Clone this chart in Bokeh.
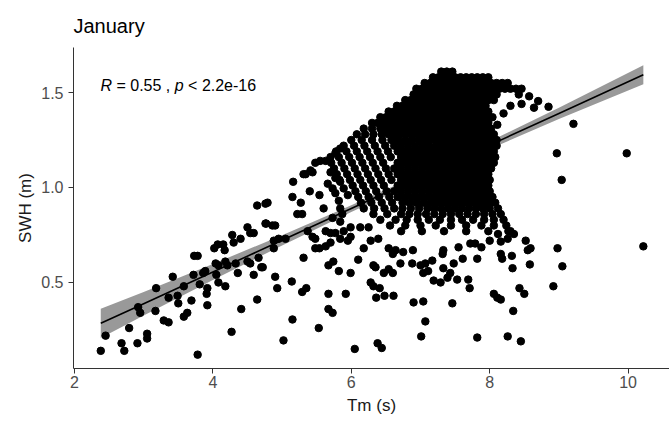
from bokeh.plotting import figure
from bokeh.models import Range1d, FixedTicker, Label, PrintfTickFormatter
from bokeh.embed import file_html
from bokeh.resources import INLINE

# ---- sparse points (Tm, SWH) ----
low_tm = [2.38, 2.45, 2.68, 2.72, 2.79, 2.91, 3.05, 3.05, 2.92, 2.95, 3.17, 3.18, 3.29, 3.36, 3.36, 3.42,
          3.49, 3.50, 3.58, 3.58, 3.63, 3.69, 3.72, 3.73, 3.78, 3.78, 3.81, 3.86, 3.89, 3.91, 3.92, 3.92,
          4.02, 4.07, 4.04, 4.08, 4.05, 4.08, 4.15, 4.17, 4.18, 4.21, 4.18, 4.27, 4.28, 4.30, 4.33, 4.36,
          4.40, 4.41, 4.50, 4.54, 4.59, 4.50, 4.54, 4.59, 4.64, 4.76, 4.64, 4.66, 4.70, 4.77]
low_swh = [0.14, 0.22, 0.18, 0.14, 0.26, 0.18, 0.23, 0.205, 0.37, 0.34, 0.35, 0.47, 0.30, 0.29, 0.42, 0.53,
           0.43, 0.39, 0.48, 0.32, 0.34, 0.405, 0.54, 0.64, 0.64, 0.12, 0.49, 0.55, 0.56, 0.44, 0.47, 0.38,
           0.68, 0.70, 0.60, 0.59, 0.54, 0.50, 0.70, 0.67, 0.61, 0.59, 0.48, 0.24, 0.75, 0.71, 0.60, 0.55,
           0.73, 0.36, 0.79, 0.76, 0.76, 0.61, 0.60, 0.54, 0.905, 0.915, 0.41, 0.63, 0.58, 0.81]

mid_tm = [5.16, 5.15, 5.27, 5.40, 5.34, 5.44, 5.54, 5.60, 4.79, 5.22, 5.29, 4.76, 4.86, 4.90, 4.88, 4.95,
          5.05, 4.88, 4.72, 5.31, 4.90, 4.93, 5.14, 5.29, 5.35, 5.15, 5.02, 5.53, 5.67, 5.67, 5.73, 5.92,
          6.05, 6.38, 6.44, 5.99, 5.82, 5.67, 5.74, 6.10, 6.28, 6.32, 6.41, 6.36, 6.48, 6.61, 6.32, 6.35,
          6.47, 5.48, 5.54, 5.63, 5.70, 5.84, 5.95, 5.99, 6.18, 6.28, 6.39, 6.13, 6.25, 6.54, 6.60, 6.64,
          6.71, 6.54, 6.60, 5.37, 5.44, 5.48, 5.73, 5.84, 5.89, 5.99, 5.77, 5.63, 5.70, 5.70, 5.77, 5.84,
          5.48, 5.55, 5.63, 5.31, 5.41, 5.66, 5.73, 5.77, 5.82, 5.84, 5.87, 5.70, 5.77, 5.84, 5.89, 5.95]
mid_swh = [1.03, 0.95, 0.92, 0.98, 1.07, 1.08, 0.96, 0.89, 0.92, 0.86, 0.86, 0.81, 0.80, 0.80, 0.72, 0.73,
           0.73, 0.68, 0.58, 0.63, 0.53, 0.47, 0.505, 0.45, 0.47, 0.305, 0.195, 0.26, 0.44, 0.36, 0.34, 0.44,
           0.15, 0.18, 0.155, 0.55, 0.56, 0.59, 0.61, 0.62, 0.50, 0.48, 0.47, 0.42, 0.43, 0.43, 0.59, 0.58,
           0.55, 0.68, 0.68, 0.69, 0.71, 0.73, 0.72, 0.74, 0.68, 0.72, 0.73, 0.79, 0.79, 0.68, 0.65, 0.67,
           0.60, 0.57, 0.55, 0.77, 0.74, 0.73, 0.84, 0.82, 0.77, 0.79, 0.76, 0.77, 0.76, 1.16, 1.18, 1.205,
           1.13, 1.14, 1.14, 1.07, 1.09, 1.02, 0.995, 0.97, 0.93, 0.89, 0.86, 1.08, 1.05, 1.03, 0.995, 0.96]

high_tm = [6.90, 7.04, 7.07, 7.01, 7.46, 7.82, 8.26, 8.45, 8.34, 8.06, 8.11, 8.16, 8.43, 8.50, 8.92, 7.69,
           7.71, 7.53, 7.39, 7.29, 7.19, 7.04, 7.11, 7.00, 7.33, 7.43, 7.48, 7.61, 7.82, 8.33, 8.32, 8.16,
           8.18, 8.58, 8.55, 8.52, 8.98, 7.88, 7.79, 7.72, 7.55, 7.33, 7.32, 7.17, 7.07, 6.88, 6.75, 6.89,
           8.00, 8.16, 8.26, 8.35, 8.27, 8.12, 9.21, 8.97, 9.98, 9.04, 8.59, 10.22, 9.05,
           8.42, 8.57, 8.70, 8.85, 8.64, 8.46, 8.30, 8.20, 8.11, 8.04]
high_swh = [0.395, 0.40, 0.295, 0.216, 0.39, 0.21, 0.216, 0.19, 0.35, 0.44, 0.42, 0.41, 0.47, 0.44, 0.48, 0.515,
            0.47, 0.515, 0.525, 0.50, 0.51, 0.55, 0.56, 0.59, 0.575, 0.55, 0.60, 0.625, 0.625, 0.575, 0.64, 0.65,
            0.625, 0.595, 0.67, 0.72, 0.68, 0.685, 0.705, 0.705, 0.685, 0.67, 0.65, 0.615, 0.60, 0.60, 0.66, 0.67,
            0.72, 0.715, 0.73, 0.755, 0.77, 0.755, 1.335, 1.18, 1.18, 1.04, 0.68, 0.69, 0.585,
            1.49, 1.48, 1.455, 1.425, 1.42, 1.44, 1.43, 1.39, 1.33, 1.37]

# ---- dense cluster, row by row (SWH level, Tm values) ----
dense_swh = [1.61, 1.58, 1.55, 1.52, 1.49, 1.46, 1.43, 1.40, 1.37, 1.34, 1.31, 1.28, 1.25, 1.22, 1.19,
             1.16, 1.13, 1.10, 1.07, 1.04, 1.01, 0.98, 0.95, 0.92, 0.89, 0.86, 0.83, 0.80, 0.77]
dense_tm = [
    [7.30, 7.38, 7.46],
    [7.18, 7.26, 7.34, 7.42, 7.50, 7.58, 7.66, 7.74, 7.82, 7.90, 7.98],
    [7.06, 7.14, 7.22, 7.30, 7.38, 7.46, 7.54, 7.62, 7.70, 7.78, 7.86, 7.94, 8.02, 8.10, 8.18, 8.26],
    [6.94, 7.02, 7.10, 7.18, 7.26, 7.34, 7.42, 7.50, 7.58, 7.66, 7.74, 7.82, 7.90, 7.98, 8.06, 8.14, 8.22, 8.30, 8.38, 8.46],
    [6.90, 6.98, 7.06, 7.14, 7.22, 7.30, 7.38, 7.46, 7.54, 7.62, 7.70, 7.78, 7.86, 7.94, 8.02, 8.10],
    [6.78, 6.86, 6.94, 7.02, 7.10, 7.18, 7.26, 7.34, 7.42, 7.50, 7.58, 7.66, 7.74, 7.82, 7.90, 7.98, 8.06],
    [6.66, 6.74, 6.82, 6.90, 6.98, 7.06, 7.14, 7.22, 7.30, 7.38, 7.46, 7.54, 7.62, 7.70, 7.78, 7.86, 7.94],
    [6.54, 6.62, 6.70, 6.78, 6.86, 6.94, 7.02, 7.10, 7.18, 7.26, 7.34, 7.42, 7.50, 7.58, 7.66, 7.74, 7.82, 7.90, 7.98],
    [6.42, 6.50, 6.58, 6.66, 6.74, 6.82, 6.90, 6.98, 7.06, 7.14, 7.22, 7.30, 7.38, 7.46, 7.54, 7.62, 7.70, 7.78, 7.86, 7.94],
    [6.30, 6.38, 6.46, 6.54, 6.62, 6.70, 6.78, 6.86, 6.94, 7.02, 7.10, 7.18, 7.26, 7.34, 7.42, 7.50, 7.58, 7.66, 7.74, 7.82, 7.90, 7.98],
    [6.18, 6.30, 6.42, 6.50, 6.58, 6.66, 6.74, 6.82, 6.90, 6.98, 7.06, 7.14, 7.22, 7.30, 7.38, 7.46, 7.54, 7.62, 7.70, 7.78, 7.86, 7.94, 8.02],
    [6.08, 6.20, 6.32, 6.44, 6.54, 6.62, 6.70, 6.78, 6.86, 6.94, 7.02, 7.10, 7.18, 7.26, 7.34, 7.42, 7.50, 7.58, 7.66, 7.74, 7.82, 7.90, 7.98, 8.06],
    [6.00, 6.15, 6.30, 6.45, 6.58, 6.68, 6.78, 6.88, 6.98, 7.06, 7.14, 7.22, 7.30, 7.38, 7.46, 7.54, 7.62, 7.70, 7.78, 7.86, 7.94, 8.02, 8.10],
    [5.89, 6.04, 6.19, 6.34, 6.49, 6.62, 6.72, 6.82, 6.92, 7.02, 7.12, 7.22, 7.30, 7.38, 7.46, 7.54, 7.62, 7.70, 7.78, 7.86, 7.94, 8.02, 8.10],
    [5.78, 5.93, 6.08, 6.23, 6.38, 6.53, 6.67, 6.77, 6.87, 6.97, 7.07, 7.17, 7.26, 7.34, 7.42, 7.50, 7.58, 7.66, 7.74, 7.82, 7.90, 7.98, 8.06],
    [5.82, 5.97, 6.12, 6.27, 6.42, 6.57, 6.72, 6.82, 6.92, 7.02, 7.12, 7.22, 7.30, 7.38, 7.46, 7.54, 7.62, 7.70, 7.78, 7.86, 7.94, 8.02, 8.08],
    [5.71, 5.86, 6.01, 6.16, 6.31, 6.46, 6.67, 6.77, 6.87, 6.97, 7.07, 7.17, 7.26, 7.34, 7.42, 7.50, 7.58, 7.66, 7.74, 7.82, 7.90, 7.98, 8.06],
    [5.75, 5.90, 6.05, 6.20, 6.35, 6.50, 6.62, 6.72, 6.82, 6.92, 7.02, 7.12, 7.22, 7.30, 7.38, 7.46, 7.54, 7.62, 7.70, 7.78, 7.86, 7.94, 8.02],
    [5.79, 5.94, 6.09, 6.24, 6.39, 6.54, 6.67, 6.77, 6.87, 6.97, 7.07, 7.17, 7.26, 7.34, 7.42, 7.50, 7.58, 7.66, 7.74, 7.82, 7.90, 7.98],
    [5.83, 5.98, 6.13, 6.28, 6.43, 6.58, 6.72, 6.82, 6.92, 7.02, 7.12, 7.22, 7.30, 7.38, 7.46, 7.54, 7.62, 7.70, 7.78, 7.86, 7.94, 8.00],
    [6.02, 6.17, 6.32, 6.47, 6.67, 6.77, 6.87, 6.97, 7.07, 7.17, 7.26, 7.34, 7.42, 7.50, 7.58, 7.66, 7.74, 7.82, 7.90, 7.98],
    [6.06, 6.21, 6.36, 6.51, 6.62, 6.72, 6.82, 6.92, 7.02, 7.12, 7.22, 7.30, 7.38, 7.46, 7.54, 7.62, 7.70, 7.78, 7.86, 7.94, 8.00],
    [6.10, 6.25, 6.40, 6.55, 6.67, 6.77, 6.87, 6.97, 7.07, 7.17, 7.26, 7.34, 7.42, 7.50, 7.58, 7.66, 7.74, 7.82, 7.90, 7.98, 8.04],
    [6.14, 6.29, 6.44, 6.59, 6.74, 6.84, 6.94, 7.04, 7.14, 7.22, 7.30, 7.38, 7.46, 7.54, 7.62, 7.70, 7.78, 7.86, 7.94, 8.02, 8.08],
    [6.18, 6.33, 6.48, 6.62, 6.74, 6.86, 6.98, 7.10, 7.20, 7.30, 7.40, 7.50, 7.60, 7.70, 7.80, 7.90, 8.00, 8.12],
    [6.32, 6.52, 6.72, 6.84, 6.96, 7.08, 7.20, 7.32, 7.44, 7.56, 7.68, 7.80, 7.92, 8.04, 8.16],
    [6.42, 6.64, 6.80, 6.96, 7.12, 7.28, 7.44, 7.60, 7.76, 7.92, 8.06, 8.20],
    [6.56, 6.78, 7.00, 7.22, 7.44, 7.66, 7.88, 8.06, 8.24],
    [6.72, 7.02, 7.34, 7.66, 7.98, 8.30],
]

# ---- regression line and confidence band ----
fit_tm = [2.38, 3.0, 4.0, 5.0, 6.0, 7.0, 8.0, 9.0, 10.22]
fit_swh = [0.285, 0.388, 0.555, 0.722, 0.889, 1.056, 1.223, 1.390, 1.594]
band_lower = [0.208, 0.326, 0.513, 0.695, 0.871, 1.041, 1.203, 1.360, 1.544]
band_upper = [0.362, 0.450, 0.597, 0.749, 0.907, 1.071, 1.243, 1.420, 1.644]

x_ticks = [2, 4, 6, 8, 10]
y_ticks = [0.5, 1.0, 1.5]

tm_all = low_tm + mid_tm + high_tm
swh_all = low_swh + mid_swh + high_swh
for level, row in zip(dense_swh, dense_tm):
    for t in row:
        tm_all.append(t)
        swh_all.append(level)

FONT = "Liberation Sans"

p = figure(width=669, height=424, output_backend="svg", toolbar_location=None,
           x_range=Range1d(1.986, 10.598), y_range=Range1d(0.047, 1.737),
           min_border_left=73, min_border_right=0, min_border_top=47, min_border_bottom=56)
p.background_fill_color = "white"
p.border_fill_color = "white"
p.outline_line_color = None
p.grid.visible = False

p.title.text = "January"
p.title.text_font = FONT
p.title.text_font_size = "20px"
p.title.text_font_style = "normal"
p.title.text_color = "black"
p.title.align = "left"
p.title.standoff = 21

p.varea(x=fit_tm, y1=band_lower, y2=band_upper, fill_color="#999999", fill_alpha=1.0)
p.scatter(tm_all, swh_all, size=7.5, color="black", line_color="black")
p.line(fit_tm, fit_swh, line_color="black", line_width=1.6)

for ax in (p.xaxis, p.yaxis):
    ax.axis_line_color = "#333333"
    ax.axis_line_width = 1
    ax.major_tick_line_color = "#333333"
    ax.major_tick_out = 5
    ax.major_tick_in = 0
    ax.minor_tick_out = 0
    ax.minor_tick_in = 0
    ax.major_label_text_font = FONT
    ax.major_label_text_font_size = "16px"
    ax.major_label_text_color = "#4d4d4d"
    ax.axis_label_text_font = FONT
    ax.axis_label_text_font_size = "17px"
    ax.axis_label_text_font_style = "normal"
    ax.axis_label_text_color = "#1a1a1a"

p.xaxis.ticker = FixedTicker(ticks=x_ticks)
p.yaxis.ticker = FixedTicker(ticks=y_ticks)
p.xaxis.formatter = PrintfTickFormatter(format="%d")
p.yaxis.formatter = PrintfTickFormatter(format="%.1f")
p.xaxis.axis_label = "Tm (s)"
p.yaxis.axis_label = "SWH (m)"
p.xaxis.major_label_standoff = 2
p.yaxis.major_label_standoff = 5
p.xaxis.axis_label_standoff = 5
p.yaxis.axis_label_standoff = 3

# correlation annotation
ann_x, ann_y = 2.376, 1.537
parts = [("R", "italic", 0), ("= 0.55 ,", "normal", 16.0), ("p", "italic", 74.3), ("< 2.2e-16", "normal", 87.6)]
for txt, style, off in parts:
    p.add_layout(Label(x=ann_x, y=ann_y, text=txt, x_offset=off, text_font=FONT,
                       text_font_size="16px", text_font_style=style, text_color="black",
                       text_baseline="middle", text_align="left"))

open("out.html", "w").write(file_html(p, INLINE))
